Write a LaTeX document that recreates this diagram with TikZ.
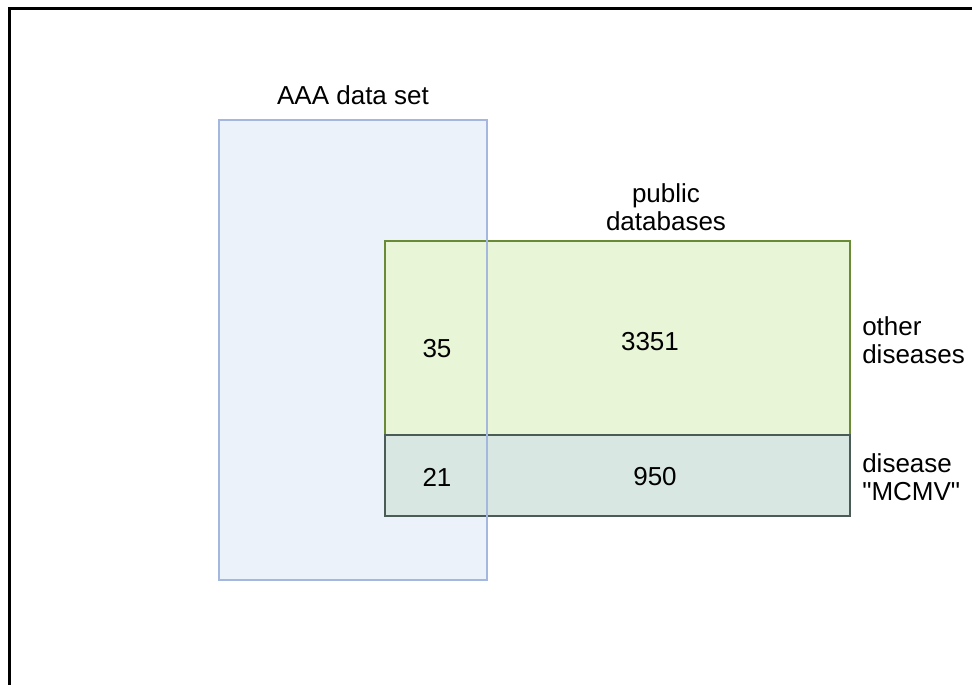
\documentclass[tikz,border=0pt]{standalone}
\usepackage{fontspec}
\setmainfont{Liberation Sans}[Ligatures=TeXOff]
\usetikzlibrary{positioning}
\definecolor{aaafill}{HTML}{EBF2FA}
\definecolor{aaadraw}{HTML}{A3B7DF}
\definecolor{otherfill}{HTML}{E9F5D7}
\definecolor{otherdraw}{HTML}{698B36}
\definecolor{mcmvfill}{HTML}{D8E7E2}
\definecolor{mcmvdraw}{HTML}{4B5B55}
\tikzset{
    set box/.style={rectangle, inner sep=0pt, line width=1.5pt},
    aaa box/.style={set box, fill=aaafill, draw=aaadraw, minimum width=201pt, minimum height=345pt},
    aaa line/.style={set box, draw=aaadraw, minimum width=201pt, minimum height=345pt},
    other box/.style={set box, fill=otherfill, draw=otherdraw, minimum width=348.75pt, minimum height=145.5pt},
    mcmv box/.style={set box, fill=mcmvfill, draw=mcmvdraw, minimum width=348.75pt, minimum height=60.75pt},
    count/.style={font=\fontsize{19.5}{23}\selectfont, inner sep=0pt},
    set label/.style={font=\fontsize{19.5}{21}\selectfont, inner sep=0pt, align=center},
    side label/.style={set label, align=left, anchor=west},
    frame line/.style={line width=2.25pt, black}
}
\begin{document}
\begin{tikzpicture}[x=0.75pt, y=-0.75pt]
    \useasboundingbox (0,0) rectangle (972,685);

    % Frame of the figure, cut at the bottom and right
    \draw[frame line] (9.5,690) -- (9.5,8.5) -- (980,8.5);

    % AAA set, public databases split in two
    \node[aaa box] (aaa) at (353,350) {};
    \node[other box] (other) at (617.5,338) {};
    \node[mcmv box] (mcmv) at (617.5,475.5) {};
    \node[aaa line] (aaaline) at (353,350) {};

    % Set labels
    \node[set label, above=10.5pt of aaa] (aaalabel) {AAA data set};
    \node[set label] (publabel) at (666,207) {public\\databases};
    \node[side label] (otherlabel) at (862,340) {other\\diseases};
    \node[side label] (mcmvlabel) at (862,477) {disease\\"MCMV"};

    % Counts
    \node[count] (n35) at (437,349) {35};
    \node[count] (n3351) at (650,342) {3351};
    \node[count] (n21) at (437,477) {21};
    \node[count] (n950) at (655,477) {950};
\end{tikzpicture}
\end{document}
